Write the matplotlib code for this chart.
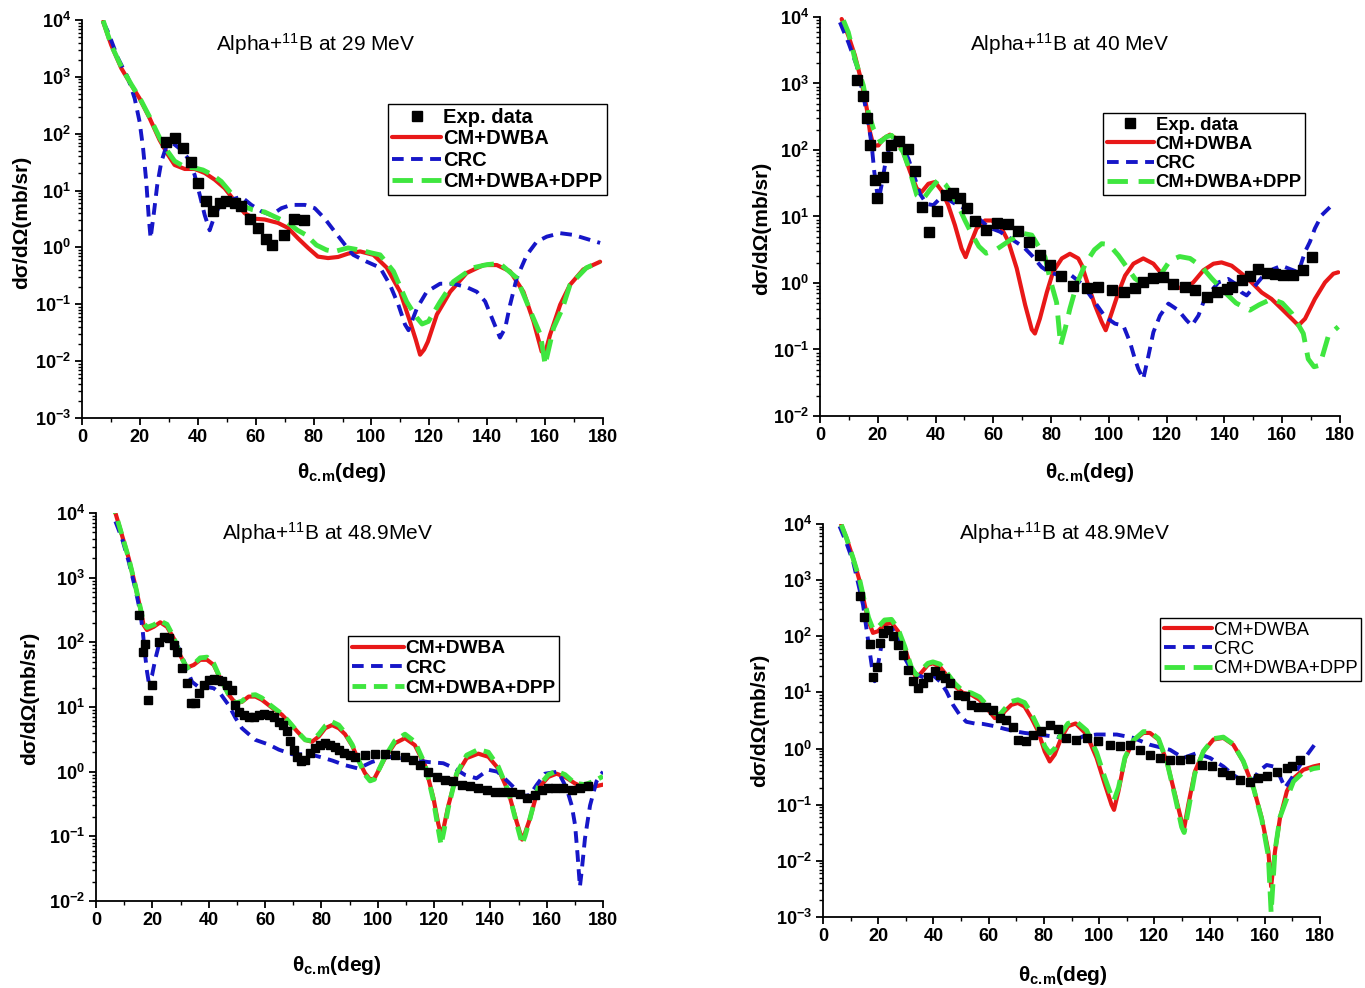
import matplotlib
matplotlib.use("Agg")
import matplotlib.pyplot as plt
from matplotlib.ticker import LogLocator, NullFormatter, MultipleLocator, FixedLocator

plt.rcParams['font.family'] = ['Liberation Sans', 'DejaVu Sans']
plt.rcParams['mathtext.fontset'] = 'custom'
plt.rcParams['mathtext.rm'] = 'Liberation Sans'
plt.rcParams['mathtext.bf'] = 'Liberation Sans:bold'
plt.rcParams['mathtext.it'] = 'Liberation Sans:italic'
plt.rcParams['mathtext.default'] = 'regular'

# ---------------- Panel 1 : 29 MeV ----------------
th29_exp = [29.1, 32.0, 34.9, 37.6, 40.1, 42.7, 45.3, 47.6, 49.9, 52.8, 55.0, 57.9, 60.8, 63.5, 65.8, 69.7, 73.3, 76.7]
cs29_exp = [72, 83, 57, 32, 13.5, 6.5, 4.3, 6.0, 6.5, 6.0, 5.3, 3.2, 2.2, 1.4, 1.1, 1.65, 3.1, 3.0]

th29_red = [7.3, 10.1, 13.6, 17.0, 19.9, 23.4, 26.8, 29.7, 32.0, 35.5, 38.9, 42.4, 45.9, 49.3, 52.8, 56.2, 59.7, 63.1, 67.7, 71.2,
            74.6, 78.1, 81.5, 85.0, 88.5, 92.0, 96.1, 100.7, 105.3, 109.9, 113.3, 115.3, 116.8, 118.2, 119.5, 122.6, 127.2, 132.9, 138.7, 143.3,
            147.9, 152.5, 156.0, 158.8, 160.0, 161.7, 165.2, 168.6, 173.2, 179.0]
cs29_red = [9330, 3630, 1410, 724, 417, 186, 77.6, 42.7, 28.2, 24.0, 24.0, 20.4, 15.5, 11.0, 6.5, 4.0, 3.2, 3.1, 2.7, 2.2,
            1.45, 0.98, 0.69, 0.65, 0.68, 0.78, 0.85, 0.74, 0.44, 0.166, 0.050, 0.024, 0.013, 0.016, 0.022, 0.066, 0.166, 0.355, 0.49, 0.49,
            0.38, 0.166, 0.050, 0.0148, 0.0138, 0.029, 0.098, 0.22, 0.41, 0.56]

th29_crc = [7.3, 9.0, 12.4, 15.9, 18.2, 19.9, 21.1, 22.2, 23.0, 23.7, 24.9, 26.0, 27.4, 29.1, 31.4, 34.3, 36.6, 38.9, 40.7, 42.4,
            44.1, 45.9, 48.1, 51.6, 55.0, 58.5, 62.0, 65.4, 68.9, 72.3, 77.0, 80.4, 83.9, 87.3, 90.8, 93.7, 98.4, 103.0, 106.4, 109.3,
            111.6, 112.8, 115.7, 119.1, 123.7, 128.3, 132.9, 136.4, 139.3, 142.1, 144.4, 146.2, 147.9, 150.2, 153.7, 157.1, 160.6, 165.2, 169.8, 174.4,
            179.0]
cs29_crc = [9330, 6170, 2140, 955, 417, 162, 56, 14.5, 3.7, 1.45, 4.3, 12.6, 32, 59, 68, 52, 37, 19, 8.3, 3.7,
            2.0, 3.7, 6.0, 6.9, 7.8, 5.6, 4.3, 3.7, 4.9, 5.6, 5.6, 4.9, 3.2, 1.9, 1.12, 0.74, 0.56, 0.44, 0.22, 0.098,
            0.044, 0.035, 0.085, 0.166, 0.23, 0.23, 0.20, 0.166, 0.112, 0.050, 0.026, 0.038, 0.098, 0.29, 0.74, 1.26, 1.55, 1.78, 1.66, 1.41,
            1.2]

th29_dpp = [7.3, 10.1, 13.6, 17.0, 19.9, 23.4, 26.8, 29.7, 32.0, 35.5, 38.9, 41.8, 45.0, 48.1, 51.5, 55.0, 59.0, 63.1, 67.5, 71.2,
            74.5, 77.5, 81.0, 84.5, 87.3, 91.9, 96.0, 100.0, 103.0, 107.6, 112.2, 115.7, 117.5, 119.7, 123.7, 128.3, 135.2, 140.0, 144.4, 150.2,
            154.9, 158.4, 160.0, 162.9, 166.0, 168.6, 174.3, 179.0]
cs29_dpp = [9800, 3630, 1500, 740, 430, 195, 85, 48, 33, 26, 25, 23, 19, 14.5, 9.0, 5.5, 4.6, 4.2, 3.3, 2.7,
            2.0, 1.65, 1.1, 0.9, 0.85, 0.98, 0.9, 0.8, 0.74, 0.38, 0.11, 0.058, 0.045, 0.05, 0.11, 0.25, 0.44, 0.5, 0.52, 0.29,
            0.076, 0.029, 0.0087, 0.038, 0.085, 0.22, 0.44, 0.56]

# ---------------- Panel 2 : 40 MeV ----------------
th40_exp = [12.7, 15.0, 16.2, 17.3, 19.0, 19.9, 21.9, 23.1, 24.6, 27.5, 30.3, 32.9, 35.2, 37.8, 40.6, 43.6, 45.9, 48.5, 51.0, 53.7,
            57.5, 61.1, 65.0, 68.7, 72.5, 76.2, 79.6, 83.4, 87.7, 92.3, 96.3, 101.0, 105.3, 109.0, 111.9, 115.4, 118.8, 122.3, 126.3, 129.8,
            133.8, 137.3, 140.8, 142.5, 146.0, 148.8, 151.7, 154.6, 157.5, 160.4, 163.8, 167.3, 170.4]
cs40_exp = [1120, 646, 302, 120, 35, 19, 39, 79, 117, 138, 102, 48, 14.1, 5.8, 12, 21.4, 22.4, 19, 13.2, 8.5,
            6.2, 7.9, 7.8, 6.0, 4.1, 2.6, 1.86, 1.29, 0.89, 0.83, 0.87, 0.78, 0.74, 0.83, 1.02, 1.17, 1.23, 0.98, 0.87, 0.79,
            0.62, 0.74, 0.81, 0.87, 1.10, 1.29, 1.62, 1.41, 1.38, 1.32, 1.32, 1.58, 2.45]

th40_red = [7.5, 9.8, 12.1, 14.4, 16.2, 17.3, 18.5, 20.2, 21.9, 24.2, 26.5, 28.8, 31.2, 33.5, 35.2, 37.5, 39.8, 42.1, 44.4, 46.7,
            49.0, 50.4, 51.9, 54.2, 57.1, 59.4, 62.3, 65.2, 68.1, 71.0, 73.3, 74.4, 76.1, 78.5, 80.7, 83.7, 86.5, 89.4, 90.6, 92.9,
            95.2, 97.5, 98.9, 101.0, 103.3, 105.6, 108.5, 111.9, 115.4, 118.8, 122.3, 125.8, 129.2, 132.7, 136.2, 139.0, 142.5, 146.0, 149.4, 152.9,
            156.3, 159.8, 163.3, 165.6, 167.9, 171.3, 174.8, 177.7, 179.4]
cs40_red = [9330, 5250, 2630, 1050, 417, 186, 117, 117, 148, 170, 148, 93, 47, 26.3, 23.4, 31, 33, 24.5, 14.8, 7.4,
            3.3, 2.45, 3.7, 6.6, 8.7, 8.7, 7.4, 4.2, 1.66, 0.47, 0.20, 0.174, 0.29, 0.72, 1.48, 2.34, 2.75, 2.34, 1.86, 0.91,
            0.46, 0.26, 0.195, 0.36, 0.72, 1.29, 1.95, 2.34, 1.95, 1.29, 0.91, 0.81, 1.02, 1.55, 1.95, 2.04, 1.82, 1.38, 1.02, 0.72,
            0.575, 0.41, 0.29, 0.23, 0.29, 0.575, 1.02, 1.38, 1.45]

th40_crc = [6.9, 9.8, 12.7, 15.0, 16.7, 17.9, 18.8, 20.2, 21.3, 22.5, 24.2, 26.0, 28.3, 30.6, 32.9, 34.6, 36.9, 39.2, 41.5, 43.8,
            46.5, 50.0, 53.1, 58.3, 62.3, 66.5, 70.4, 73.3, 76.7, 79.0, 83.1, 87.1, 90.6, 95.2, 98.7, 102.1, 105.0, 107.3, 109.0, 110.2,
            111.9, 113.7, 115.4, 117.7, 120.6, 124.0, 126.9, 128.7, 131.0, 132.7, 135.0, 137.9, 141.3, 143.7, 146.0, 147.7, 150.6, 153.5, 156.9, 159.8,
            162.7, 165.6, 167.9, 169.6, 171.3, 173.7, 176.5]
cs40_crc = [8320, 4170, 1860, 661, 263, 117, 46.8, 16.6, 29.5, 58.9, 117, 141, 117, 74, 37, 21.9, 15.5, 14.8, 18.6, 18.6,
            15.8, 13.2, 11.0, 6.9, 5.9, 4.5, 3.5, 2.6, 1.74, 1.48, 1.29, 1.29, 0.98, 0.51, 0.31, 0.245, 0.229, 0.129, 0.072, 0.051,
            0.036, 0.081, 0.182, 0.324, 0.49, 0.39, 0.275, 0.229, 0.324, 0.51, 0.72, 1.02, 1.15, 0.98, 0.72, 0.65, 0.91, 1.29, 1.62, 1.82,
            1.62, 1.45, 2.95, 4.17, 6.6, 10.5, 13.8]

th40_dpp = [8.1, 9.8, 12.1, 15.0, 16.7, 18.5, 21.0, 23.0, 24.8, 28.8, 31.2, 33.5, 35.5, 38.0, 41.2, 43.5, 45.6, 48.0, 50.2, 52.5,
            55.0, 57.5, 60.6, 65.8, 70.0, 73.3, 77.9, 79.6, 81.9, 83.3, 84.8, 86.5, 89.0, 92.0, 95.0, 97.5, 100.0, 103.3, 106.0, 109.0,
            112.0, 114.8, 117.0, 119.0, 121.2, 124.5, 128.1, 132.0, 135.6, 140.2, 144.0, 148.8, 152.0, 156.3, 160.0, 163.3, 167.3, 169.0, 171.0, 173.0,
            176.0, 179.4]
cs40_dpp = [8910, 5890, 2340, 933, 372, 209, 132, 158, 166, 93, 47, 20.9, 17.8, 25.1, 37, 30, 21.9, 14.1, 8.7, 5.5,
            3.55, 2.8, 3.1, 4.4, 5.6, 5.25, 2.45, 1.16, 0.51, 0.115, 0.2, 0.41, 1.0, 2.0, 3.16, 3.9, 3.8, 2.6, 1.78, 1.17,
            0.95, 0.91, 1.12, 1.58, 2.19, 2.5, 2.34, 1.78, 1.17, 0.72, 0.5, 0.39, 0.47, 0.575, 0.5, 0.35, 0.174, 0.072, 0.055, 0.058,
            0.162, 0.22]

# ---------------- Panel 3 : 48.9 MeV (left) ----------------
th49a_exp = [15.2, 16.6, 17.5, 18.5, 19.9, 22.2, 24.0, 25.8, 27.6, 28.8, 30.5, 32.3, 33.7, 35.3, 36.7, 38.2, 40.0, 41.8, 43.3, 44.7,
             46.5, 48.3, 49.5, 50.6, 52.4, 54.2, 56.0, 57.8, 59.5, 61.3, 63.1, 64.9, 66.3, 67.8, 69.0, 70.2, 71.4, 72.9, 74.3, 76.1,
             77.9, 79.6, 81.4, 83.2, 84.7, 86.2, 87.9, 90.0, 92.0, 95.5, 99.0, 102.6, 106.1, 109.7, 112.7, 115.0, 118.0, 120.9, 123.9, 126.9,
             129.8, 132.8, 135.7, 138.7, 141.6, 144.6, 147.6, 150.5, 152.9, 155.8, 158.2, 160.6, 163.0, 165.9, 168.9, 171.8, 174.8]
cs49a_exp = [263, 72, 95, 12.9, 21.9, 100, 123, 115, 91, 72, 40, 23.4, 11.5, 11.5, 16.2, 21.9, 26.3, 27.5, 26.3, 25.1,
             21.9, 18.2, 10.7, 8.5, 7.6, 7.1, 7.1, 7.6, 7.8, 7.6, 7.1, 5.9, 5.2, 4.2, 2.95, 2.19, 1.70, 1.45, 1.51, 1.91,
             2.29, 2.63, 2.75, 2.57, 2.45, 2.19, 1.91, 1.78, 1.70, 1.78, 1.86, 1.86, 1.78, 1.70, 1.51, 1.26, 1.0, 0.83, 0.74, 0.71,
             0.63, 0.59, 0.55, 0.52, 0.49, 0.49, 0.48, 0.45, 0.39, 0.44, 0.52, 0.55, 0.56, 0.55, 0.52, 0.55, 0.59]

th49a_red = [6.0, 6.9, 9.2, 11.6, 13.9, 15.7, 16.9, 18.1, 20.5, 22.8, 25.2, 27.6, 29.9, 32.3, 34.7, 37.0, 39.4, 41.8, 44.1, 47.1,
             49.5, 51.8, 54.2, 56.6, 58.9, 61.3, 63.7, 66.0, 68.4, 71.4, 74.3, 76.7, 79.1, 81.4, 83.8, 86.2, 88.4, 91.0, 93.5, 95.5,
             97.3, 98.8, 102.6, 106.1, 109.7, 113.2, 116.8, 119.8, 121.5, 122.5, 123.5, 125.1, 128.0, 131.6, 135.7, 139.3, 142.8, 146.4, 149.3, 151.3,
             152.3, 154.1, 157.0, 160.6, 163.5, 166.5, 170.0, 173.6, 177.1, 180.0]
cs49a_red = [15800, 10000, 4570, 2000, 776, 339, 186, 155, 174, 204, 174, 115, 63, 40.7, 44.7, 53.7, 53.7, 44.7, 27.5, 15.5,
             11.5, 12.0, 14.5, 14.5, 12.9, 10.7, 8.9, 7.6, 5.9, 4.2, 3.1, 2.9, 3.5, 4.7, 5.25, 4.7, 3.8, 2.5, 1.41, 0.95,
             0.76, 0.78, 1.62, 2.75, 3.3, 2.57, 1.26, 0.39, 0.158, 0.105, 0.141, 0.30, 0.89, 1.62, 1.9, 1.7, 1.12, 0.49, 0.17, 0.089,
             0.112, 0.19, 0.55, 0.83, 0.93, 0.83, 0.66, 0.55, 0.59, 0.63]
cs49a_dpp = [15800, 10000, 4570, 2000, 776, 347, 200, 170, 186, 214, 190, 120, 63, 40, 46, 57.5, 59, 47, 28, 15.5,
             11.5, 12.3, 15.1, 15.5, 13.8, 11.2, 9.3, 7.8, 6.0, 4.2, 3.1, 3.0, 3.8, 5.1, 5.9, 5.25, 4.0, 2.6, 1.41, 0.9,
             0.72, 0.76, 1.7, 3.0, 3.8, 2.9, 1.3, 0.36, 0.13, 0.074, 0.12, 0.28, 0.93, 1.8, 2.2, 2.0, 1.2, 0.5, 0.16, 0.076,
             0.1, 0.19, 0.58, 0.9, 1.02, 0.9, 0.66, 0.63, 0.72, 0.85]

th49a_crc = [6.9, 9.2, 11.6, 13.9, 15.7, 16.6, 17.3, 18.1, 18.7, 19.9, 21.1, 22.8, 24.6, 27.0, 29.4, 31.7, 34.1, 36.4, 39.4, 41.8,
             44.1, 47.1, 49.5, 51.8, 56.6, 61.3, 64.9, 69.6, 73.1, 76.7, 80.2, 84.0, 88.4, 93.1, 97.9, 103.8, 108.5, 113.2, 117.9, 123.3,
             127.4, 131.0, 135.1, 139.3, 142.5, 146.4, 149.9, 152.5, 154.1, 156.4, 159.4, 164.1, 167.1, 168.9, 170.1, 171.0, 171.8, 172.4, 173.6, 175.4,
             177.7, 180.0]
cs49a_crc = [7410, 4070, 1780, 692, 295, 148, 72, 35.5, 24.5, 30.9, 56, 110, 129, 123, 81, 44.7, 24.5, 20.4, 20.4, 19.5,
             16.2, 10.7, 6.8, 4.7, 3.1, 2.63, 2.19, 1.86, 1.86, 1.82, 1.66, 1.48, 1.26, 1.12, 1.41, 1.70, 1.62, 1.51, 1.41, 1.35,
             1.12, 0.89, 0.79, 1.07, 1.0, 0.69, 0.49, 0.42, 0.44, 0.62, 0.93, 1.0, 0.55, 0.30, 0.148, 0.05, 0.0166, 0.028, 0.093, 0.30,
             0.71, 1.0]

# ---------------- Panel 4 : 48.9 MeV (right) ----------------
th49b_exp = [13.3, 14.9, 16.9, 18.1, 19.7, 20.5, 21.7, 23.5, 25.4, 27.2, 29.0, 30.8, 32.6, 34.4, 36.2, 38.0, 40.4, 42.3, 44.1, 45.9,
             48.9, 51.3, 53.7, 56.1, 59.2, 61.6, 64.0, 66.4, 68.8, 70.6, 73.6, 76.1, 79.1, 82.1, 85.1, 88.1, 91.8, 95.5, 99.7, 104.0,
             107.6, 111.2, 114.8, 118.4, 122.1, 125.7, 129.3, 132.9, 137.2, 140.8, 144.4, 147.4, 151.0, 154.7, 157.7, 160.7, 164.3, 168.0, 169.7, 172.8]
cs49b_exp = [513, 224, 72, 18.6, 28.8, 76, 115, 132, 100, 71, 47, 25.1, 15.8, 12.0, 14.8, 18.6, 24, 20.4, 18.2, 14.8,
             9.1, 8.5, 6.0, 5.6, 5.6, 4.9, 3.5, 3.2, 2.4, 1.45, 1.35, 1.78, 2.04, 2.63, 2.19, 1.55, 1.45, 1.55, 1.38, 1.17,
             1.10, 1.17, 0.95, 0.76, 0.68, 0.63, 0.63, 0.66, 0.51, 0.48, 0.39, 0.34, 0.28, 0.25, 0.30, 0.32, 0.39, 0.45, 0.48, 0.63]

th49b_red = [6.6, 8.5, 10.9, 13.3, 15.1, 16.5, 18.1, 19.9, 22.3, 24.8, 27.2, 29.6, 32.0, 33.8, 35.6, 38.0, 39.8, 42.3, 44.7, 47.7,
             50.7, 53.7, 56.7, 59.8, 62.2, 64.0, 65.8, 68.2, 70.6, 73.0, 75.5, 77.9, 80.3, 82.1, 83.9, 86.3, 88.7, 91.5, 95.5, 99.1,
             102.1, 104.5, 105.4, 107.0, 109.4, 112.4, 116.0, 118.4, 121.5, 124.5, 127.5, 129.9, 130.8, 132.3, 134.7, 137.8, 141.4, 145.0, 148.6, 152.2,
             155.9, 158.9, 161.3, 162.3, 163.7, 165.5, 168.0, 170.4, 174.0, 177.6, 180.0]
cs49b_red = [9770, 5620, 2450, 955, 363, 186, 115, 123, 162, 174, 123, 62, 27, 18.2, 22.4, 31, 33, 28.8, 20.4, 12.9,
             9.8, 9.1, 7.4, 4.9, 3.5, 3.5, 4.6, 6.0, 6.5, 5.6, 3.5, 2.04, 0.89, 0.59, 0.78, 1.55, 2.5, 2.8, 1.78, 0.68,
             0.23, 0.1, 0.081, 0.174, 0.68, 1.35, 1.9, 1.9, 1.45, 0.59, 0.151, 0.05, 0.038, 0.1, 0.39, 0.89, 1.45, 1.55, 1.17, 0.59,
             0.2, 0.058, 0.0148, 0.0035, 0.0148, 0.058, 0.174, 0.295, 0.42, 0.48, 0.51]
cs49b_dpp = [9770, 5620, 2450, 1000, 400, 215, 135, 145, 195, 200, 135, 66, 28, 20.4, 25, 33, 35, 32, 23, 14.5,
             10.5, 9.8, 8.3, 5.6, 4.2, 4.0, 5.1, 6.9, 7.4, 6.6, 4.2, 2.4, 1.1, 0.83, 1.0, 1.9, 2.8, 3.1, 2.1, 0.85,
             0.3, 0.14, 0.12, 0.2, 0.7, 1.4, 2.0, 2.0, 1.5, 0.6, 0.14, 0.04, 0.032, 0.08, 0.36, 0.9, 1.5, 1.6, 1.2, 0.6,
             0.2, 0.055, 0.012, 0.0012, 0.015, 0.06, 0.13, 0.26, 0.38, 0.44, 0.46]

th49b_crc = [6.0, 8.5, 10.9, 12.7, 14.5, 15.7, 16.9, 18.1, 18.7, 19.7, 21.1, 22.9, 24.8, 27.2, 29.6, 32.0, 34.4, 36.8, 39.8, 42.3,
             44.7, 47.1, 49.5, 51.9, 54.9, 57.9, 62.2, 65.8, 69.4, 73.0, 77.9, 82.7, 87.5, 91.8, 94.3, 99.1, 104.0, 106.4, 112.4, 118.4,
             125.7, 130.5, 135.3, 140.2, 145.0, 148.6, 152.2, 155.3, 157.7, 160.7, 163.1, 165.5, 167.3, 169.7, 172.8, 175.8, 179.4]
cs49b_crc = [9120, 4570, 2140, 891, 363, 141, 54, 21, 15.8, 27, 66, 123, 141, 93, 41, 25.1, 20.4, 18.2, 20.4, 15.8,
             10.5, 6.0, 4.0, 3.0, 2.8, 2.75, 2.5, 2.24, 2.04, 1.9, 1.78, 1.66, 1.55, 1.45, 1.66, 1.78, 1.78, 1.78, 1.55, 1.17,
             0.95, 0.68, 0.83, 0.68, 0.48, 0.34, 0.26, 0.245, 0.39, 0.51, 0.48, 0.32, 0.2, 0.295, 0.51, 0.83, 1.45]

titles = ["Alpha+$^{11}$B at 29 MeV", "Alpha+$^{11}$B at 40 MeV",
          "Alpha+$^{11}$B at 48.9MeV", "Alpha+$^{11}$B at 48.9MeV"]
legend_labels = ["Exp. data", "CM+DWBA", "CRC", "CM+DWBA+DPP"]
x_ticks = [0, 20, 40, 60, 80, 100, 120, 140, 160, 180]

RED = '#e81818'
BLUE = '#1616c8'
GREEN = '#3fe63f'

W, H = 1365, 988
fig = plt.figure(figsize=(13.65, 9.88), dpi=100)


def px_axes(l, r, t, b):
    return [l / W, 1 - b / H, (r - l) / W, (b - t) / H]


panels = [
    dict(box=px_axes(82, 603, 20, 418), ylo=-3,
         exp=(th29_exp, cs29_exp), red=(th29_red, cs29_red), crc=(th29_crc, cs29_crc), dpp=(th29_dpp, cs29_dpp),
         title=titles[0], title_xy=(316, 44), ylab_xy=(22, 222), xlab_xy=(342, 473),
         leg_xy=(388, 104), leg_fs=14.5, leg_bold=True, with_exp=True, ms=6.5, gdash=(4.2, 1.8), hl=2.45),
    dict(box=px_axes(820, 1340, 17, 416), ylo=-2,
         exp=(th40_exp, cs40_exp), red=(th40_red, cs40_red), crc=(th40_crc, cs40_crc), dpp=(th40_dpp, cs40_dpp),
         title=titles[1], title_xy=(1070, 44), ylab_xy=(762, 228), xlab_xy=(1090, 473),
         leg_xy=(1103, 113), leg_fs=13.3, leg_bold=True, with_exp=True, ms=6.5, gdash=(4.2, 2.2), hl=2.55),
    dict(box=px_axes(96, 603, 513, 901), ylo=-2,
         exp=(th49a_exp, cs49a_exp), red=(th49a_red, cs49a_red), crc=(th49a_crc, cs49a_crc), dpp=(th49a_red, cs49a_dpp),
         title=titles[2], title_xy=(327, 533), ylab_xy=(30, 698), xlab_xy=(337, 965),
         leg_xy=(348, 636), leg_fs=13.8, leg_bold=True, with_exp=False, ms=6.0, gdash=(2.8, 1.6), hl=2.7),
    dict(box=px_axes(823, 1320, 524, 917), ylo=-3,
         exp=(th49b_exp, cs49b_exp), red=(th49b_red, cs49b_red), crc=(th49b_crc, cs49b_crc), dpp=(th49b_red, cs49b_dpp),
         title=titles[3], title_xy=(1064, 533), ylab_xy=(760, 720), xlab_xy=(1063, 975),
         leg_xy=(1160, 618), leg_fs=13.3, leg_bold=False, with_exp=False, ms=6.0, gdash=(4.2, 1.8), hl=2.6),
]

for p in panels:
    ax = fig.add_axes(p['box'])
    ax.set_yscale('log')
    ex, ey = p['exp']
    h_exp, = ax.plot(ex, ey, linestyle='none', marker='s', color='black', markersize=p['ms'], zorder=5)
    rx, ry = p['red']
    h_red, = ax.plot(rx, ry, color=RED, lw=3.0, solid_capstyle='round', solid_joinstyle='round', zorder=2)
    bx, by = p['crc']
    h_crc, = ax.plot(bx, by, color=BLUE, lw=2.8, linestyle=(0, (3.0, 1.9)), zorder=3)
    gx, gy = p['dpp']
    h_dpp, = ax.plot(gx, gy, color=GREEN, lw=3.5, linestyle=(0, p['gdash']), zorder=4)

    ax.set_xlim(0, 180)
    ax.set_ylim(10.0 ** p['ylo'], 1e4)
    ax.spines['top'].set_visible(False)
    ax.spines['right'].set_visible(False)
    for s in ('left', 'bottom'):
        ax.spines[s].set_linewidth(1.3)

    ax.xaxis.set_major_locator(FixedLocator(x_ticks))
    ax.xaxis.set_minor_locator(MultipleLocator(10))
    exps = list(range(p['ylo'], 5))
    ax.yaxis.set_major_locator(FixedLocator([10.0 ** k for k in exps]))
    ax.set_yticklabels([r'$\mathbf{10^{%d}}$' % k for k in exps])
    ax.yaxis.set_minor_locator(LogLocator(base=10, subs=range(2, 10), numticks=30))
    ax.yaxis.set_minor_formatter(NullFormatter())
    ax.set_xticklabels([str(v) for v in x_ticks])
    ax.tick_params(which='major', direction='out', length=5, width=1.3, labelsize=13, pad=3)
    ax.tick_params(which='minor', direction='out', length=3, width=1.0)
    for lab in ax.get_xticklabels():
        lab.set_fontweight('bold')

    fig.text(p['title_xy'][0] / W, 1 - p['title_xy'][1] / H, p['title'], ha='center', va='center', fontsize=15)
    fig.text(p['ylab_xy'][0] / W, 1 - p['ylab_xy'][1] / H, 'dσ/dΩ(mb/sr)', rotation=90,
             ha='center', va='center', fontsize=15, fontweight='bold')
    fig.text(p['xlab_xy'][0] / W, 1 - p['xlab_xy'][1] / H, r'θ$_{\mathbf{c.\!m}}$(deg)',
             ha='center', va='center', fontsize=15, fontweight='bold')

    if p['with_exp']:
        handles = [h_exp, h_red, h_crc, h_dpp]
        labels = legend_labels
    else:
        handles = [h_red, h_crc, h_dpp]
        labels = legend_labels[1:]
    leg = ax.legend(handles, labels, loc='upper left',
                    bbox_to_anchor=(p['leg_xy'][0] / W, 1 - p['leg_xy'][1] / H),
                    bbox_transform=fig.transFigure, frameon=True, fancybox=False,
                    edgecolor='black', framealpha=1, borderaxespad=0, borderpad=0.2,
                    labelspacing=0.12, handlelength=p['hl'], handletextpad=0.1, numpoints=1,
                    prop={'size': p['leg_fs'], 'weight': 'bold' if p['leg_bold'] else 'normal'})
    leg.get_frame().set_linewidth(1.0)
    leg.set_zorder(10)

fig.savefig('out.png', dpi=100)
